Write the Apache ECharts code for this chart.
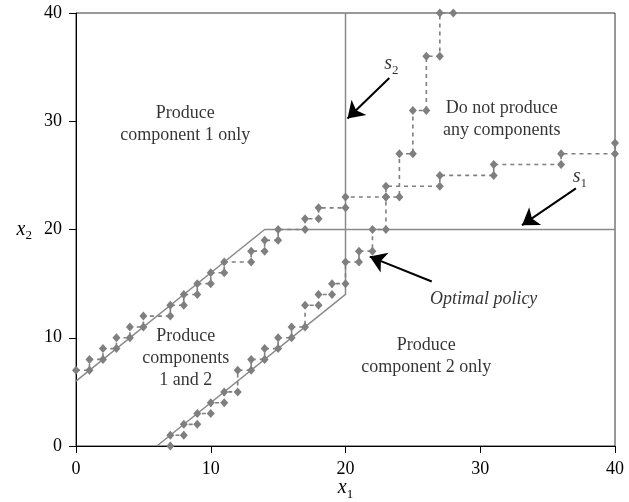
<!DOCTYPE html>
<html>
<head>
<meta charset="utf-8">
<script src="https://cdn.jsdelivr.net/npm/echarts@6/dist/echarts.min.js"></script>
<style>
  html, body { margin: 0; padding: 0; background: #fff; }
  #chart { width: 629px; height: 502px; }
</style>
</head>
<body>
<div id="chart"></div>
<script>
// Axis ticks for x1 and x2
const xTicks = [0, 10, 20, 30, 40];
const yTicks = [0, 10, 20, 30, 40];

// Optimal policy staircases (corner points of each step)
const policyS1 = [[0,7],[1,7],[1,8],[2,8],[2,9],[3,9],[3,10],[4,10],[4,11],[5,11],[5,12],[7,12],[7,13],
  [8,13],[8,14],[9,14],[9,15],[10,15],[10,16],[11,16],[11,17],[13,17],[13,18],[14,18],[14,19],[15,19],
  [15,20],[17,20],[17,21],[18,21],[18,22],[20,22],[20,23],[23,23],[23,24],[27,24],[27,25],[31,25],
  [31,26],[36,26],[36,27],[40,27],[40,28]];
const policyS2 = [[7,0],[7,1],[8,1],[8,2],[9,2],[9,3],[10,3],[10,4],[11,4],[11,5],[12,5],[12,7],[13,7],
  [13,8],[14,8],[14,9],[15,9],[15,10],[16,10],[16,11],[17,11],[17,13],[18,13],[18,14],[19,14],[19,15],
  [20,15],[20,17],[21,17],[21,18],[22,18],[22,20],[23,20],[23,23],[24,23],[24,27],[25,27],[25,31],
  [26,31],[26,36],[27,36],[27,40],[28,40]];

// Heuristic switching curves s1 and s2
const curveS1 = [[0,6],[14,20],[40,20]];
const curveS2 = [[6,0],[20,14],[20,40]];

// Region labels: [x1, x2, text]
const regionNotes = [
  [8.1, 29.7, 'Produce\ncomponent 1 only'],
  [31.6, 30.15, 'Do not produce\nany components'],
  [8.15, 8.15, 'Produce\ncomponents\n1 and 2'],
  [26.0, 8.3, 'Produce\ncomponent 2 only']
];
const policyNote = [30.25, 13.6, 'Optimal policy'];
const curveNotes = [[23.4, 35.3, '2'], [37.4, 24.85, '1']];

// Arrows: [from, to]
const arrows = [
  [[23.25, 34.0], [20.15, 30.25]],
  [[37.1, 23.8], [33.1, 20.4]],
  [[26.4, 15.2], [21.8, 17.5]]
];

const SERIF = '"Liberation Serif", "DejaVu Serif", serif';
const GREY = '#7f7f7f';

const subRich = {
  i: { fontFamily: SERIF, fontStyle: 'italic', fontSize: 20, lineHeight: 26, verticalAlign: 'middle', color: '#000' },
  s: { fontFamily: SERIF, fontSize: 13, lineHeight: 12, verticalAlign: 'bottom', color: '#000' }
};

const chart = echarts.init(document.getElementById('chart'), null, { renderer: 'canvas' });

const notesData = regionNotes.map(n => ({ value: [n[0], n[1]], label: { formatter: n[2] } }));
notesData.push({ value: [policyNote[0], policyNote[1]], label: { formatter: policyNote[2], fontStyle: 'italic' } });
curveNotes.forEach(n => notesData.push({
  value: [n[0], n[1]],
  label: { formatter: '{i|s}{s|' + n[2] + '}', rich: subRich }
}));

chart.setOption({
  animation: false,
  backgroundColor: '#fff',
  grid: {
    left: 76, right: 14, top: 13, bottom: 56,
    outerBoundsMode: 'none', containLabel: false,
    show: true, borderColor: '#333', borderWidth: 1
  },
  xAxis: {
    type: 'value', min: xTicks[0], max: xTicks[xTicks.length - 1], interval: 10,
    splitLine: { show: false },
    axisLine: { lineStyle: { color: '#000', width: 1 } },
    axisTick: { length: 7, lineStyle: { color: '#000' } },
    axisLabel: { color: '#000', fontFamily: SERIF, fontSize: 18, margin: 14 },
    name: '{i|x}{s|1}', nameLocation: 'middle', nameGap: 29, nameMoveOverlap: false,
    nameTextStyle: { rich: subRich }
  },
  yAxis: {
    type: 'value', min: yTicks[0], max: yTicks[yTicks.length - 1], interval: 10,
    splitLine: { show: false },
    axisLine: { lineStyle: { color: '#000', width: 1 } },
    axisTick: { length: 7, lineStyle: { color: '#000' } },
    axisLabel: { color: '#000', fontFamily: SERIF, fontSize: 18, margin: 14 },
    name: '{i|x}{s|2}', nameLocation: 'middle', nameRotate: 0, nameGap: 44, nameMoveOverlap: false,
    nameTextStyle: { rich: subRich }
  },
  series: [
    {
      type: 'line', data: curveS1, symbol: 'none', clip: false,
      lineStyle: { color: '#8a8a8a', width: 1.5 }, z: 2
    },
    {
      type: 'line', data: curveS2, symbol: 'none', clip: false,
      lineStyle: { color: '#8a8a8a', width: 1.5 }, z: 2
    },
    {
      type: 'line', data: policyS1, symbol: 'diamond', symbolSize: [8, 9], clip: false,
      itemStyle: { color: GREY, borderWidth: 0 },
      lineStyle: { color: GREY, width: 1.6, type: [4, 4] }, z: 3
    },
    {
      type: 'line', data: policyS2, symbol: 'diamond', symbolSize: [8, 9], clip: false,
      itemStyle: { color: GREY, borderWidth: 0 },
      lineStyle: { color: GREY, width: 1.6, type: [4, 4] }, z: 3
    },
    {
      type: 'lines', coordinateSystem: 'cartesian2d', polyline: false,
      symbol: ['none', 'arrow'], symbolSize: [12, 16],
      lineStyle: { color: '#000', width: 2, opacity: 1, curveness: 0 },
      data: arrows.map(a => ({ coords: a })), z: 4
    },
    {
      type: 'scatter', data: notesData, symbolSize: 1, silent: true,
      itemStyle: { color: 'rgba(0,0,0,0)' },
      label: {
        show: true, position: 'inside', color: '#000',
        fontFamily: SERIF, fontSize: 18, lineHeight: 22, align: 'center', verticalAlign: 'middle'
      },
      z: 5
    }
  ]
});
</script>
</body>
</html>
